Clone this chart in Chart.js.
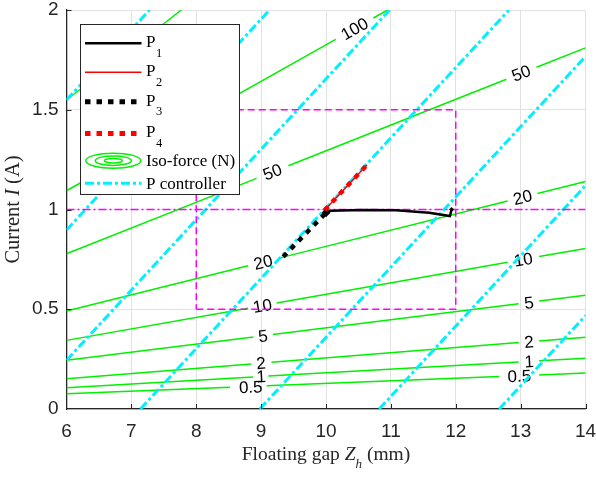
<!DOCTYPE html>
<html>
<head>
<meta charset="utf-8">
<script src="https://cdn.jsdelivr.net/npm/chart.js@4.4.0/dist/chart.umd.min.js"></script>
<style>
  html, body { margin: 0; padding: 0; background: #fff; }
  #wrap { width: 596px; height: 477px; }
</style>
</head>
<body>
<div id="wrap"><canvas id="chart" width="596" height="477"></canvas></div>
<script>
(() => {
  "use strict";

  /* ─── Fonts & colours ─── */
  const SANS = '"Liberation Sans", Arial, sans-serif';
  const SERIF = '"Liberation Serif", "Times New Roman", serif';
  const AXIS = "#262626";
  const GREEN = "#00f000";
  const CYAN = "#00f0ff";
  const MAGENTA = "#ff00ff";

  /* ─── Axes ─── */
  const xTicks = [6, 7, 8, 9, 10, 11, 12, 13, 14];
  const yTicks = [0, 0.5, 1, 1.5, 2];

  /* ─── Iso-force contours (N); null = break where the label sits ─── */
  const iso05 = [[6, 0.077], [8.52, 0.109], null, [9.085, 0.117], [12.67, 0.163], null, [13.285, 0.171], [14, 0.180]];
  const iso1 = [[6, 0.107], [8.88, 0.160], null, [9.11, 0.165], [12.97, 0.236], null, [13.285, 0.242], [14, 0.255]];
  const iso2 = [[6, 0.152], [8.85, 0.226], null, [9.16, 0.234], [12.97, 0.333], null, [13.285, 0.341], [14, 0.360]];
  const iso5 = [[6, 0.244], [8.88, 0.361], null, [9.18, 0.374], [12.97, 0.528], null, [13.285, 0.541], [14, 0.570]];
  const iso10 = [[6, 0.344], [8.80, 0.505], null, [9.24, 0.531], [12.80, 0.736], null, [13.285, 0.764], [14, 0.805]];
  const iso20 = [[6, 0.491], [8.80, 0.718], null, [9.26, 0.755], [12.80, 1.043], null, [13.26, 1.080], [14, 1.140]];
  const iso50 = [[6, 0.778], [8.93, 1.156], null, [9.42, 1.219], [12.78, 1.653], null, [13.245, 1.713], [14, 1.810]];
  const iso100 = [[6, 1.094], [10.15, 1.853], null, [10.73, 1.960], [10.95, 2.0]];
  const iso200 = [[6, 1.549], [7.77, 2.0]];

  // label centres on each contour
  const lbl05 = [[8.84, 0.110], [12.98, 0.165]];
  const lbl1 = [[9.0, 0.163], [13.13, 0.238]];
  const lbl2 = [[9.0, 0.230], [13.13, 0.336]];
  const lbl5 = [[9.03, 0.366], [13.13, 0.533]];
  const lbl10 = [[9.02, 0.517], [13.04, 0.749]];
  const lbl20 = [[9.03, 0.736], [13.03, 1.061]];
  const lbl50 = [[9.175, 1.188], [13.01, 1.683]];
  const lbl100 = [[10.44, 1.906]];

  const isoLevels = ["0.5", "1", "2", "5", "10", "20", "50", "100", "200"];
  const isoLines = [iso05, iso1, iso2, iso5, iso10, iso20, iso50, iso100, iso200];
  const isoLabels = [lbl05, lbl1, lbl2, lbl5, lbl10, lbl20, lbl50, lbl100, []];

  /* ─── P controller lines ─── */
  const pCtrlLines = [
    [[6, 1.549], [7.28, 2]],
    [[6, 0.897], [9.13, 2]],
    [[6, 0.244], [10.98, 2]],
    [[7.14, 0], [12.82, 2]],
    [[8.98, 0], [14, 1.767]],
    [[10.82, 0], [14, 1.12]],
    [[12.67, 0], [14, 0.468]],
  ];

  /* ─── Operating window ─── */
  const windowBox = [[8, 0.5], [12, 0.5], [12, 1.5], [8, 1.5], [8, 0.5]];
  const refCurrent = [[6, 1], [14, 1]];

  /* ─── Trajectories ─── */
  const p1 = [[10.0, 0.984], [10.08, 0.994], [10.56, 0.997], [11.08, 0.996], [11.59, 0.984], [11.91, 0.967], [11.935, 1.0]];
  const p2 = [[9.98, 0.997], [10.63, 1.223]];
  const p3 = [[9.34, 0.763], [10.0, 0.984]];
  const p4 = [[9.98, 0.997], [10.63, 1.223]];

  /* ─── Helpers ─── */
  const toXY = (pts) => {
    let lastX = null;
    return pts.map((p) => {
      if (!p) return { x: lastX, y: null };
      lastX = p[0];
      return { x: p[0], y: p[1] };
    });
  };

  const lineSet = (pts, extra) => Object.assign({
    data: toXY(pts),
    showLine: true,
    fill: false,
    pointRadius: 0,
    tension: 0,
    borderCapStyle: "butt",
  }, extra);

  /* ─── Datasets ─── */
  const datasets = [];

  isoLines.forEach((pts, i) => {
    datasets.push(lineSet(pts, {
      label: isoLevels[i],
      borderColor: GREEN,
      borderWidth: 1.5,
      order: 10,
      isoLabels: isoLabels[i],
    }));
  });

  pCtrlLines.forEach((pts) => {
    datasets.push(lineSet(pts, {
      label: "P controller",
      borderColor: CYAN,
      borderWidth: 3,
      borderDash: [9, 3, 3, 3],
      order: 8,
    }));
  });

  datasets.push(lineSet(windowBox, { label: "window", borderColor: MAGENTA, borderWidth: 1.5, borderDash: [7, 4], order: 7 }));
  datasets.push(lineSet(refCurrent, { label: "ref", borderColor: MAGENTA, borderWidth: 1.5, borderDash: [8, 3, 2, 3], order: 7 }));

  datasets.push(lineSet(p2, { label: "P2", borderColor: "#ff0000", borderWidth: 1.5, order: 4 }));
  datasets.push(lineSet(p1, {
    label: "P1",
    borderColor: "#000",
    borderWidth: 2.5,
    order: 3,
    pointStyle: "rectRot",
    pointRadius: [4.5, 0, 0, 0, 0, 0, 2.5],
    pointBackgroundColor: "#000",
    pointBorderWidth: 0,
  }));
  datasets.push(lineSet(p3, { label: "P3", borderColor: "#000", borderWidth: 4.5, borderDash: [5, 6], order: 2 }));
  datasets.push(lineSet(p4, { label: "P4", borderColor: "#ff0000", borderWidth: 4.5, borderDash: [5, 6], order: 1 }));

  /* ─── Contour labels (drawn right after each green line) ─── */
  const isoLabelPlugin = {
    id: "isoLabels",
    afterDatasetDraw(chart, args) {
      const ds = chart.data.datasets[args.index];
      if (!ds.isoLabels || !ds.isoLabels.length) return;
      const xs = chart.scales.x;
      const ys = chart.scales.y;
      const pts = ds.data.filter((p) => p.y !== null);
      const a = pts[0];
      const b = pts[pts.length - 1];
      const ang = Math.atan2(
        ys.getPixelForValue(b.y) - ys.getPixelForValue(a.y),
        xs.getPixelForValue(b.x) - xs.getPixelForValue(a.x)
      );
      const ctx = chart.ctx;
      ctx.save();
      ctx.font = `17px ${SANS}`;
      ctx.fillStyle = "#000";
      ctx.textAlign = "center";
      ctx.textBaseline = "middle";
      ds.isoLabels.forEach(([lx, ly]) => {
        ctx.save();
        ctx.translate(xs.getPixelForValue(lx), ys.getPixelForValue(ly));
        ctx.rotate(ang);
        ctx.fillText(ds.label, 0, 1);
        ctx.restore();
      });
      ctx.restore();
    },
  };

  /* ─── Boxed legend, top-left inside the axes ─── */
  const legendRows = [
    { y: 43.3, type: "line", color: "#000", width: 2.5, dash: [], text: "P", sub: "1" },
    { y: 72.3, type: "line", color: "#ff0000", width: 1.5, dash: [], text: "P", sub: "2" },
    { y: 101.7, type: "line", color: "#000", width: 5, dash: [5.5, 6], text: "P", sub: "3" },
    { y: 133.5, type: "line", color: "#ff0000", width: 5, dash: [5.5, 6], text: "P", sub: "4" },
    { y: 160.7, type: "ellipse", text: "Iso-force (N)" },
    { y: 183.3, type: "line", color: CYAN, width: 3, dash: [9, 3, 3, 3], text: "P controller" },
  ];

  const legendPlugin = {
    id: "boxLegend",
    afterDatasetsDraw(chart) {
      const ctx = chart.ctx;
      ctx.save();
      ctx.fillStyle = "#fff";
      ctx.fillRect(80, 24, 159, 170);
      ctx.setLineDash([]);
      ctx.lineWidth = 1;
      ctx.strokeStyle = AXIS;
      ctx.strokeRect(80.5, 24.5, 159, 170);

      legendRows.forEach((r) => {
        if (r.type === "line") {
          ctx.beginPath();
          ctx.strokeStyle = r.color;
          ctx.lineWidth = r.width;
          ctx.lineCap = "butt";
          ctx.setLineDash(r.dash);
          ctx.moveTo(85, r.y);
          ctx.lineTo(141.5, r.y);
          ctx.stroke();
        } else {
          ctx.setLineDash([]);
          ctx.strokeStyle = GREEN;
          ctx.lineWidth = 1.5;
          [[27.5, 7.5], [18, 4.7], [9, 2.3]].forEach(([rx, ry]) => {
            ctx.beginPath();
            ctx.ellipse(113.3, r.y, rx, ry, 0, 0, Math.PI * 2);
            ctx.stroke();
          });
        }
        ctx.fillStyle = "#000";
        ctx.textAlign = "left";
        ctx.textBaseline = "alphabetic";
        ctx.font = `17px ${SERIF}`;
        if (r.sub) {
          ctx.fillText(r.text, 146, r.y + 3.8);
          const w = ctx.measureText(r.text).width;
          ctx.font = `12.5px ${SERIF}`;
          ctx.fillText(r.sub, 146 + w + 0.5, r.y + 13.4);
        } else {
          ctx.fillText(r.text, 146, r.y + 5.5);
        }
      });
      ctx.restore();
    },
  };

  /* ─── Inward ticks + axis titles with italics/subscript ─── */
  const drawRuns = (ctx, runs, x0, y0) => {
    let x = x0;
    runs.forEach((r) => {
      ctx.font = r.font;
      ctx.fillText(r.t, x, y0 + (r.dy || 0));
      x += ctx.measureText(r.t).width;
    });
  };
  const runsWidth = (ctx, runs) => runs.reduce((s, r) => {
    ctx.font = r.font;
    return s + ctx.measureText(r.t).width;
  }, 0);

  const axesDecorPlugin = {
    id: "axesDecor",
    afterDraw(chart) {
      const ctx = chart.ctx;
      const area = chart.chartArea;
      const xs = chart.scales.x;
      const ys = chart.scales.y;
      ctx.save();
      ctx.strokeStyle = AXIS;
      ctx.lineWidth = 1;
      ctx.setLineDash([]);
      ctx.beginPath();
      xTicks.slice(1).forEach((v) => {
        const px = Math.round(xs.getPixelForValue(v)) + 0.5;
        ctx.moveTo(px, area.bottom);
        ctx.lineTo(px, area.bottom - 5);
      });
      yTicks.slice(1).forEach((v) => {
        const py = Math.round(ys.getPixelForValue(v)) + 0.5;
        ctx.moveTo(area.left, py);
        ctx.lineTo(area.left + 5, py);
      });
      ctx.stroke();

      ctx.fillStyle = AXIS;
      ctx.textBaseline = "alphabetic";
      ctx.textAlign = "left";

      const xRuns = [
        { t: "Floating gap ", font: `19.5px ${SERIF}` },
        { t: "Z", font: `italic 19.5px ${SERIF}` },
        { t: "h", font: `italic 13px ${SERIF}`, dy: 8 },
        { t: " (mm)", font: `19.5px ${SERIF}` },
      ];
      const xw = runsWidth(ctx, xRuns);
      drawRuns(ctx, xRuns, (area.left + area.right) / 2 - xw / 2, 460);

      const yRuns = [
        { t: "Current ", font: `20.5px ${SERIF}` },
        { t: "I", font: `italic 20.5px ${SERIF}` },
        { t: " (A)", font: `20.5px ${SERIF}` },
      ];
      const yw = runsWidth(ctx, yRuns);
      ctx.translate(19, (area.top + area.bottom) / 2);
      ctx.rotate(-Math.PI / 2);
      drawRuns(ctx, yRuns, -yw / 2, 0);
      ctx.restore();
    },
  };

  /* ─── Chart ─── */
  const tickFont = { family: SANS, size: 19 };

  new Chart(document.getElementById("chart").getContext("2d"), {
    type: "line",
    data: { datasets },
    options: {
      responsive: false,
      animation: false,
      devicePixelRatio: 1,
      events: [],
      layout: { padding: { top: 10, right: 10.5, left: 0, bottom: 0 } },
      plugins: { legend: { display: false }, tooltip: { enabled: false } },
      scales: {
        x: {
          type: "linear",
          min: 6,
          max: 14,
          afterBuildTicks: (s) => { s.ticks = xTicks.map((v) => ({ value: v })); },
          afterFit: (s) => { s.height = 68; s.paddingLeft = 0; s.paddingRight = 0; },
          grid: { color: "#e2e2e2", lineWidth: 1, drawTicks: false },
          border: { color: AXIS, width: 1.3 },
          ticks: { font: tickFont, color: AXIS, padding: 11, maxRotation: 0, autoSkip: false },
        },
        y: {
          type: "linear",
          min: 0,
          max: 2,
          afterBuildTicks: (s) => { s.ticks = yTicks.map((v) => ({ value: v })); },
          afterFit: (s) => { s.width = 66.5; s.paddingTop = 0; s.paddingBottom = 0; },
          grid: { color: "#e2e2e2", lineWidth: 1, drawTicks: false },
          border: { color: AXIS, width: 1.3 },
          ticks: { font: tickFont, color: AXIS, padding: 8, autoSkip: false, callback: (v) => String(v) },
        },
      },
    },
    plugins: [isoLabelPlugin, legendPlugin, axesDecorPlugin],
  });
})();
</script>
</body>
</html>
